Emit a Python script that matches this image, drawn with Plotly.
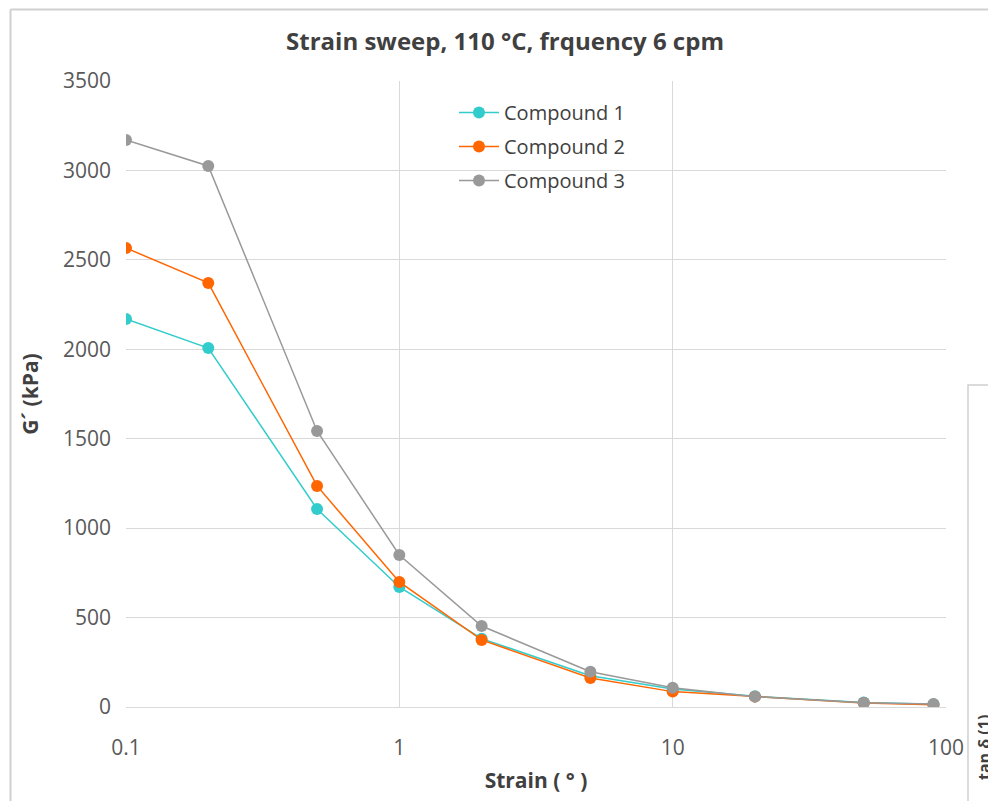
import plotly.graph_objects as go

strain = [0.1, 0.2, 0.5, 1, 2, 5, 10, 20, 50, 90]
compound1 = [2169, 2007, 1107, 671, 382, 175, 100, 60, 25, 15]
compound2 = [2566, 2371, 1236, 699, 375, 162, 86, 58, 22, 12]
compound3 = [3170, 3025, 1543, 850, 453, 197, 108, 58, 24, 17]
series_names = ["Compound 1", "Compound 2", "Compound 3"]
series_colors = ["#33CCCC", "#FF6600", "#999999"]
y_ticks = [0, 500, 1000, 1500, 2000, 2500, 3000, 3500]
x_ticks = [0.1, 1, 10, 100]
x_ticklabels = ["0.1", "1", "10", "100"]

# page offset (browser body margin)
O = 8
W, H = 996 - O, 801 - O
L, R, T, B = 126 - O, 946 - O, 81 - O, 707 - O

def px(x):
    return (x - O - L) / (R - L)

def py(y):
    return (B - (y - O)) / (B - T)

FONT = "Open Sans"
fig = go.Figure()
for i, (name, vals, col) in enumerate(zip(series_names, [compound1, compound2, compound3], series_colors)):
    fig.add_trace(go.Scatter(
        x=strain, y=vals, name=name, mode="lines+markers",
        line=dict(color=col, width=1.5),
        marker=dict(color=col, size=12),
        legendgroup=f"g{i}",
    ))

shapes = [
    # outer chart frame (left and top edges)
    dict(type="line", xref="paper", yref="paper", x0=px(10.5), x1=px(10.5), y0=py(9.5), y1=py(805),
         line=dict(color="#D0D0D0", width=2), layer="above"),
    dict(type="line", xref="paper", yref="paper", x0=px(10.5), x1=px(1000), y0=py(9.5), y1=py(9.5),
         line=dict(color="#D0D0D0", width=2), layer="above"),
    # legend white background breaking gridlines
    dict(type="rect", xref="paper", yref="paper", x0=px(412), x1=px(662), y0=py(96), y1=py(196),
         line=dict(width=0), fillcolor="white", layer="between"),
    # neighbouring chart frame
    dict(type="rect", xref="paper", yref="paper", x0=px(968), x1=px(1015), y0=py(385), y1=py(815),
         line=dict(color="#D0D0D0", width=1.5), fillcolor="white", layer="above"),
]

fig.update_layout(
    width=W, height=H,
    margin=dict(l=L, r=W - R, t=T, b=H - B),
    paper_bgcolor="white", plot_bgcolor="white",
    font=dict(family=FONT, color="#595959", size=21),
    title=dict(text="<b>Strain sweep, 110 °C, frquency 6 cpm</b>", x=(505 - O) / W, xanchor="center",
               y=1 - (42 - O) / H, yanchor="middle", font=dict(family=FONT, size=24, color="#404040")),
    showlegend=True,
    legend=dict(x=px(454), y=py(93), xanchor="left", yanchor="top", bgcolor="rgba(0,0,0,0)",
                font=dict(family=FONT, size=20, color="#404040"), traceorder="grouped",
                tracegroupgap=5, itemwidth=40),
    shapes=shapes,
    annotations=[
        dict(text="<b>tan δ (1)</b>", xref="paper", yref="paper", x=px(984), y=py(748),
             showarrow=False, textangle=-90, font=dict(family=FONT, size=16, color="#404040"),
             xanchor="center", yanchor="middle"),
    ],
)

fig.update_xaxes(
    type="log", range=[-1, 2], tickvals=x_ticks, ticktext=x_ticklabels,
    showgrid=True, gridcolor="#D9D9D9", gridwidth=1.3,
    showline=True, linecolor="#D9D9D9", linewidth=1.3, mirror=False,
    ticks="", ticklabelstandoff=22, zeroline=False,
    title=dict(text="<b>Strain ( ° )</b>", font=dict(family=FONT, size=21, color="#404040"), standoff=12),
)
fig.update_yaxes(
    range=[0, 3500], tickvals=y_ticks,
    showgrid=True, gridcolor="#D9D9D9", gridwidth=1.3,
    showline=False, zeroline=False, ticks="", ticklabelstandoff=14,
    title=dict(text="<b>G´ (kPa)</b>", font=dict(family=FONT, size=21, color="#404040"), standoff=18),
)

fig.write_html("out.html")
